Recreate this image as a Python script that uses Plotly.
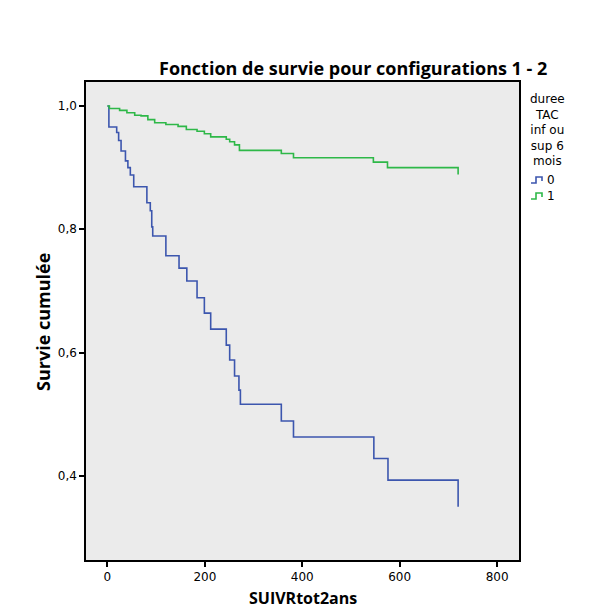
import plotly.graph_objects as go

# Group 0 (duree TAC = 0): event times (days) and cumulative survival after each event
t0 = [0, 3, 19, 23, 28, 37, 42, 47, 54, 81, 88, 91, 93, 120, 147, 163, 184, 199, 212,
      244, 251, 261, 270, 273, 357, 382, 547, 576, 720]
s0 = [1.0, 0.966, 0.957, 0.944, 0.927, 0.911, 0.900, 0.888, 0.869, 0.843, 0.830, 0.804,
      0.789, 0.757, 0.737, 0.716, 0.689, 0.664, 0.638, 0.612, 0.588, 0.562, 0.539, 0.516,
      0.489, 0.463, 0.428, 0.393, 0.350]

# Group 1 (duree TAC = 1)
t1 = [0, 4, 25, 40, 56, 69, 83, 97, 120, 145, 162, 184, 199, 212, 244, 251, 261, 271,
      357, 382, 546, 575, 720]
s1 = [1.0, 0.996, 0.993, 0.989, 0.985, 0.984, 0.978, 0.973, 0.970, 0.967, 0.962, 0.959,
      0.955, 0.950, 0.946, 0.942, 0.937, 0.928, 0.923, 0.916, 0.909, 0.900, 0.889]

groups = ["0", "1"]
colors = ["#3C56AE", "#2EB848"]
x_ticks = [0, 200, 400, 600, 800]
y_ticks = [0.4, 0.6, 0.8, 1.0]

FONT = "DejaVu Sans"
BOLD = "Open Sans"
W, H = 600, 613
L, R, T, B = 78, 89, 74, 61
PW, PH = W - L - R, H - T - B


def px(x):  # pixel x -> paper x
    return (x - L) / PW


def py(y):  # pixel y -> paper y
    return 1 - (y - T) / PH


fig = go.Figure()
for tt, ss, g, c in zip([t0, t1], [s0, s1], groups, colors):
    fig.add_trace(go.Scatter(x=tt, y=ss, mode="lines", line_shape="hv", name=g,
                             showlegend=False, line=dict(color=c, width=1.6)))

annotations = [
    dict(text="<b>Fonction de survie pour configurations 1 - 2</b>", x=px(344.5), y=py(60),
         xref="paper", yref="paper", xanchor="center", yanchor="middle", showarrow=False,
         font=dict(family=BOLD, size=18, color="black")),
    dict(text="<b>Survie cumulée</b>", x=px(35), y=py(314), textangle=-90,
         xref="paper", yref="paper", xanchor="center", yanchor="middle", showarrow=False,
         font=dict(family=BOLD, size=18, color="black")),
    dict(text="<b>SUIVRtot2ans</b>", x=px(294.5), y=py(590),
         xref="paper", yref="paper", xanchor="center", yanchor="middle", showarrow=False,
         font=dict(family=BOLD, size=16, color="black")),
    dict(text="duree<br>TAC<br>inf ou<br>sup 6<br>mois", x=px(539), y=py(82),
         xref="paper", yref="paper", xanchor="center", yanchor="top", align="center",
         showarrow=False, font=dict(family=FONT, size=12, color="black")),
]

shapes = []
for i, (g, c) in enumerate(zip(groups, colors)):
    yc = 172 + 16 * i
    x0, x1, x2, x3 = px(523), px(528), px(534), px(534)
    yb, yt, ym = py(yc + 3), py(yc - 3), py(yc + 1)
    shapes.append(dict(type="path", xref="paper", yref="paper",
                       path=f"M {x0} {yb} L {x1} {yb} L {x1} {yt} L {x2} {yt} L {x3} {ym}",
                       line=dict(color=c, width=1.6)))
    annotations.append(dict(text=g, x=px(537), y=py(yc), xref="paper", yref="paper",
                            xanchor="left", yanchor="middle", showarrow=False,
                            font=dict(family=FONT, size=12, color="black")))

fig.update_layout(
    width=W, height=H,
    margin=dict(l=L, r=R, t=T, b=B, autoexpand=False),
    paper_bgcolor="white",
    plot_bgcolor="#EBEBEB",
    separators=", ",
    showlegend=False,
    annotations=annotations,
    shapes=shapes,
)

fig.update_xaxes(
    range=[-44, 845], tickvals=x_ticks, tickformat="d", automargin=False,
    ticks="outside", ticklen=5, tickwidth=1.5, tickcolor="black",
    showline=True, linecolor="black", linewidth=1.5, mirror=True,
    showgrid=False, zeroline=False,
    tickfont=dict(family=FONT, size=12, color="black"),
)
fig.update_yaxes(
    range=[0.2634, 1.039], tickvals=y_ticks, tickformat=".1f", automargin=False,
    ticks="outside", ticklen=5, tickwidth=1.5, tickcolor="black",
    showline=True, linecolor="black", linewidth=1.5, mirror=True,
    showgrid=False, zeroline=False,
    tickfont=dict(family=FONT, size=12, color="black"),
)

fig.write_html("out.html")
